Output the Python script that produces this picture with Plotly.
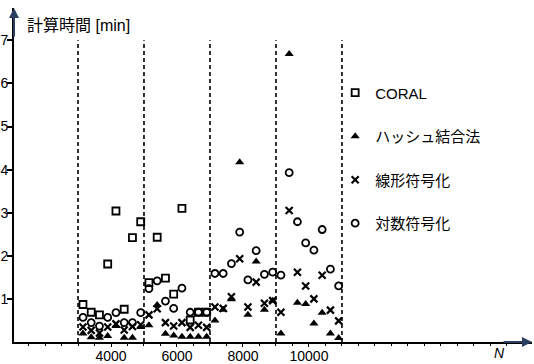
import plotly.graph_objects as go

# N values (four groups separated by dashed lines)
n_group1 = [3150, 3400, 3650, 3900, 4150, 4400, 4650, 4900]
n_group2 = [5150, 5400, 5650, 5900, 6150, 6400, 6650, 6900]
n_group3 = [7150, 7400, 7650, 7900, 8150, 8400, 8650, 8900]
n_group4 = [9150, 9400, 9650, 9900, 10150, 10400, 10650, 10900]
n_all = n_group1 + n_group2 + n_group3 + n_group4
n_coral = n_group1 + n_group2

# computation time [min]
coral = [0.87, 0.69, 0.63, 1.81, 3.04, 0.76, 2.42, 2.79,
         1.38, 2.43, 1.48, 1.11, 3.10, 0.51, 0.69, 0.69]
hash_join = [0.20, 0.11, 0.10, 0.14, 0.37, 0.10, 0.10, 0.35,
             0.39, 0.86, 0.19, 0.15, 0.12, 0.12, 0.12, 0.12,
             0.50, 0.75, 0.99, 4.17, 0.63, 1.87, 0.75, 0.96,
             0.20, 6.68, 0.91, 0.88, 0.43, 0.68, 0.20, 0.09]
linear_code = [0.35, 0.27, 0.21, 0.35, 0.42, 0.28, 0.36, 0.40,
               0.63, 0.77, 0.45, 0.37, 0.45, 0.34, 0.39, 0.34,
               0.81, 0.78, 1.05, 1.93, 0.81, 1.39, 0.90, 0.96,
               0.69, 3.05, 1.62, 1.30, 1.00, 1.55, 0.74, 0.49]
log_code = [0.57, 0.45, 0.37, 0.57, 0.68, 0.45, 0.45, 0.68,
            1.24, 1.42, 0.95, 0.78, 1.25, 0.69, 0.69, 0.69,
            1.59, 1.59, 1.82, 2.55, 1.44, 2.12, 1.57, 1.62,
            1.55, 3.93, 2.79, 2.30, 2.13, 2.61, 1.69, 1.30]

series_names = ["CORAL", "ハッシュ結合法", "線形符号化", "対数符号化"]
dividers = [3000, 5000, 7000, 9000, 11000]
divider_top = 7
x_ticks = [4000, 6000, 8000, 10000]
y_ticks = [1, 2, 3, 4, 5, 6, 7]

FONT = "Liberation Sans, Arial, Noto Sans CJK JP, sans-serif"

fig = go.Figure()
fig.add_trace(go.Scatter(
    x=n_coral, y=coral, mode="markers", name=series_names[0], legendgroup="a",
    marker=dict(symbol="square-open", size=7, color="black", line=dict(width=1.8))))
fig.add_trace(go.Scatter(
    x=n_all, y=hash_join, mode="markers", name=series_names[1], legendgroup="b",
    marker=dict(symbol="triangle-up", size=8, color="black")))
fig.add_trace(go.Scatter(
    x=n_all, y=linear_code, mode="markers", name=series_names[2], legendgroup="c",
    marker=dict(symbol="x-thin-open", size=7, color="black", line=dict(width=2.2, color="black"))))
fig.add_trace(go.Scatter(
    x=n_all, y=log_code, mode="markers", name=series_names[3], legendgroup="d",
    marker=dict(symbol="circle-open", size=7, color="black", line=dict(width=1.8))))

for d in dividers:
    fig.add_shape(type="line", x0=d, x1=d, y0=0, y1=divider_top, xref="x", yref="y",
                  line=dict(color="black", width=1.6, dash="4px,3px"))

# axis arrows
fig.add_annotation(xref="paper", yref="paper", x=0, y=1, ax=0, ay=30,
                   showarrow=True, arrowhead=2, arrowsize=1, arrowwidth=2, text="")
fig.add_annotation(xref="paper", yref="paper", x=1, y=0, ax=-30, ay=0,
                   showarrow=True, arrowhead=2, arrowsize=1, arrowwidth=2, text="")

fig.add_annotation(xref="paper", yref="paper", x=0.022, y=0.949, xanchor="left", yanchor="middle",
                   text="計算時間 [min]", showarrow=False,
                   font=dict(size=16, color="black", family=FONT))
fig.add_annotation(xref="paper", yref="paper", x=0.938, y=-0.033, xanchor="center", yanchor="middle",
                   text="<i>N</i>", showarrow=False,
                   font=dict(size=14, color="black", family=FONT))

fig.update_layout(
    width=534, height=364,
    margin=dict(l=14, r=2, t=8, b=22),
    paper_bgcolor="white", plot_bgcolor="white",
    font=dict(family=FONT, color="black", size=14),
    showlegend=True,
    legend=dict(x=0.62, y=0.795, xanchor="left", yanchor="top",
                bgcolor="rgba(0,0,0,0)", tracegroupgap=21, itemwidth=30,
                font=dict(size=15, family=FONT, color="black")),
    xaxis=dict(range=[1060, 16760], showgrid=False, zeroline=False, automargin=False,
               showline=True, linecolor="black", linewidth=2,
               tickvals=x_ticks, ticktext=[str(v) for v in x_ticks],
               ticks="outside", ticklen=3, tickwidth=1, tickcolor="black",
               ticklabelstandoff=-3,
               minor=dict(dtick=500, ticks="outside", ticklen=2, tickcolor="black"),
               tickfont=dict(size=14, family=FONT, color="black")),
    yaxis=dict(range=[0, 7.75], showgrid=False, zeroline=False, automargin=False,
               showline=True, linecolor="black", linewidth=2,
               tickvals=y_ticks, ticks="outside", ticklen=5, tickwidth=1.5, tickcolor="black",
               ticklabelstandoff=-4,
               tickfont=dict(size=14, family=FONT, color="black")),
)

fig.write_html("out.html", config={"displayModeBar": False},
               post_script="document.body.style.margin='0';")
